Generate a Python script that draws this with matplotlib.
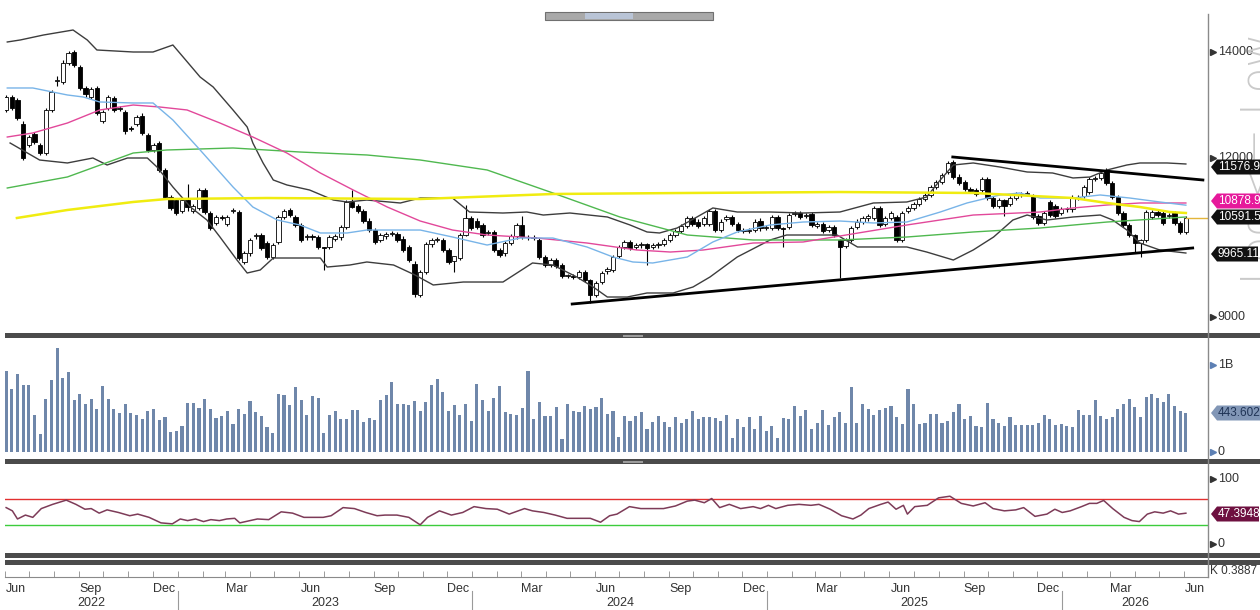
import numpy as np
import pandas as pd
import matplotlib
matplotlib.use('Agg')
import matplotlib.pyplot as plt
from matplotlib.patches import Rectangle, Polygon
from matplotlib.lines import Line2D
from matplotlib.transforms import blended_transform_factory

plt.rcParams['font.family'] = ['Liberation Sans', 'DejaVu Sans']

# weekly candles, first bar on this friday
start = pd.Timestamp('2022-06-03')

opens = [
    12900, 13150, 13100, 12650, 12250, 12450, 12250, 12100, 12900, 13450,
    13430, 13800, 14000, 13720, 13320, 13150, 13320, 12700, 12950, 13130,
    12920, 12870, 12560, 12650, 12800, 12430, 12150, 12280, 11770, 11260,
    11200, 11000, 11200, 11000, 11050, 11400, 10960, 10780, 10880, 10750,
    11000, 10980, 10040, 10200, 10520, 10550, 10400, 10130, 10420, 10880,
    11020, 10880, 10740, 10500, 10520, 10500, 10320, 10320, 10480, 10500,
    10700, 11170, 11100, 11000, 10820, 10640, 10450, 10520, 10560, 10560,
    10480, 10320, 10000, 9420, 9850, 10370, 10450, 10450, 10260, 10050,
    10110, 10550, 10870, 10820, 10740, 10580, 10600, 10260, 10200, 10400,
    10520, 10740, 10500, 10510, 10450, 10130, 9990, 10080, 9980, 9770,
    9780, 9760, 9850, 9700, 9420, 9660, 9860, 9890, 10150, 10320,
    10420, 10320, 10350, 10380, 10320, 10350, 10380, 10450, 10540, 10620,
    10720, 10870, 10800, 10760, 10760, 11000, 10650, 10850, 10880, 10760,
    10640, 10620, 10640, 10820, 10680, 10680, 10880, 10680, 10700, 10950,
    10960, 10900, 10940, 10720, 10760, 10650, 10700, 10450, 10340, 10450,
    10700, 10800, 10860, 10870, 11060, 10750, 10870, 10890, 10450, 11000,
    11060, 11130, 11230, 11300, 11450, 11550, 11740, 11920, 11650, 11550,
    11420, 11400, 11400, 11600, 11250, 11100, 11200, 11130, 11250, 11320,
    11320, 11280, 10900, 10780, 11170, 11100, 10960, 11040, 11030, 11270,
    11280, 11360, 11600, 11620, 11770, 11530, 11260, 10960, 10740, 10550,
    10400, 10450, 10890, 10980, 10960, 10900, 10960, 10770, 10600,
]
closes = [
    13150, 12950, 12750, 12000, 12400, 12300, 12100, 12900, 13250, 13470,
    13800, 13980, 13750, 13320, 13200, 13300, 12850, 12870, 13150, 12900,
    12950, 12500, 12550, 12770, 12470, 12150, 12250, 11770, 11260, 11050,
    10960, 11200, 11080, 11100, 11400, 10980, 10680, 10880, 10870, 10880,
    11020, 10110, 10200, 10450, 10550, 10300, 10130, 10350, 10880, 11000,
    10920, 10740, 10450, 10520, 10500, 10320, 10300, 10500, 10520, 10700,
    11170, 11070, 11000, 10820, 10640, 10420, 10540, 10560, 10580, 10450,
    10260, 10080, 9430, 9850, 10370, 10450, 10460, 10260, 10040, 10150,
    10550, 10870, 10680, 10700, 10550, 10600, 10260, 10170, 10400, 10520,
    10740, 10500, 10510, 10490, 10130, 9980, 10080, 9970, 9770, 9780,
    9750, 9850, 9700, 9420, 9640, 9830, 9900, 10130, 10320, 10420,
    10300, 10350, 10380, 10310, 10350, 10380, 10450, 10540, 10620, 10720,
    10870, 10760, 10720, 10860, 11000, 10640, 10800, 10880, 10760, 10640,
    10620, 10640, 10800, 10670, 10700, 10880, 10680, 10660, 10930, 10960,
    10880, 10920, 10740, 10760, 10630, 10700, 10550, 10320, 10450, 10680,
    10800, 10860, 10900, 11060, 10740, 10870, 10960, 10450, 10960, 11060,
    11130, 11230, 11300, 11450, 11550, 11680, 11900, 11650, 11530, 11420,
    11380, 11320, 11600, 11250, 11100, 11200, 11100, 11250, 11320, 11300,
    11330, 10880, 10780, 10960, 10920, 10900, 11040, 11030, 11270, 11250,
    11450, 11600, 11620, 11720, 11530, 11260, 10960, 10740, 10550, 10400,
    10450, 10980, 10980, 10920, 10770, 10920, 10770, 10600, 10870,
]
# bars whose wicks stick out a lot: index -> (high, low)
long_wicks = {
    9: (13550, 13350), 32: (11500, 11000), 56: (10320, 9890), 61: (11400, 11050),
    72: (10050, 9380), 79: (10150, 9850), 81: (11110, 10530), 91: (10900, 10480),
    103: (9720, 9260), 113: (10400, 9980), 137: (10700, 10320), 147: (10470, 9740),
    176: (11220, 10900), 199: (10560, 10200), 200: (10470, 10130), 208: (10900, 10560),
}

volume_b = [
    0.927, 0.719, 0.895, 0.770, 0.770, 0.426, 0.203, 0.614, 0.829, 1.200,
    0.848, 0.915, 0.602, 0.665, 0.547, 0.614, 0.497, 0.759, 0.614, 0.497,
    0.446, 0.547, 0.446, 0.426, 0.379, 0.469, 0.497, 0.368, 0.399, 0.231,
    0.242, 0.293, 0.563, 0.563, 0.508, 0.614, 0.497, 0.391, 0.418, 0.469,
    0.321, 0.497, 0.438, 0.587, 0.457, 0.418, 0.282, 0.215, 0.665, 0.653,
    0.536, 0.743, 0.602, 0.430, 0.641, 0.626, 0.215, 0.420, 0.469, 0.375,
    0.375, 0.477, 0.477, 0.348, 0.391, 0.368, 0.602, 0.653, 0.809, 0.547,
    0.547, 0.536, 0.587, 0.469, 0.575, 0.770, 0.837, 0.692, 0.469, 0.536,
    0.430, 0.547, 0.360, 0.778, 0.602, 0.469, 0.626, 0.759, 0.454, 0.438,
    0.426, 0.508, 0.934, 0.375, 0.575, 0.414, 0.414, 0.516, 0.152, 0.547,
    0.469, 0.457, 0.532, 0.497, 0.516, 0.626,
    0.438, 0.469, 0.176, 0.414, 0.360, 0.414, 0.457, 0.270, 0.340, 0.414,
    0.340, 0.282, 0.399, 0.336, 0.375, 0.469, 0.375, 0.399, 0.399, 0.391,
    0.352, 0.426, 0.164, 0.375, 0.282, 0.399, 0.270, 0.414, 0.242, 0.297,
    0.164, 0.387, 0.379, 0.532, 0.414, 0.477, 0.270, 0.336, 0.477, 0.309,
    0.399, 0.465, 0.336, 0.743, 0.336, 0.547, 0.493, 0.426, 0.477, 0.508,
    0.524, 0.399, 0.321, 0.719, 0.547, 0.321, 0.336, 0.438, 0.438, 0.336,
    0.360, 0.465, 0.555, 0.375, 0.414, 0.293, 0.282, 0.559, 0.375, 0.336,
    0.293, 0.399, 0.309, 0.309, 0.309, 0.309, 0.336, 0.426, 0.375, 0.309,
    0.321, 0.293, 0.282, 0.477, 0.426, 0.426, 0.594, 0.414, 0.375, 0.399,
    0.493, 0.547, 0.614, 0.516, 0.399, 0.633, 0.665, 0.626, 0.575, 0.665,
    0.532, 0.469, 0.444,
]

# study lines at bar positions
bb_upper_idx = [0.2, 2.5, 6.6, 11.8, 14.3, 16.0, 22.4, 25.9, 29.4, 31.2,
                34.2, 36.5, 40.0, 42.5, 43.5, 45.3, 47.1, 49.5, 53.5, 57.7,
                60.1, 63.6, 69.5, 73.0, 78.7, 81.7, 87.6, 91.8, 94.7, 99.4,
                106.0, 110.0, 113.0, 115.2, 118.3, 121.8, 124.6, 128.9, 134.7, 140.5,
                147.0, 152.9, 158.8, 162.3, 164.7, 167.0, 170.5, 175.2, 180.0, 184.5,
                188.1, 191.1, 194.1, 197.6, 199.9, 204.7, 208.0]
bb_upper = [14189, 14227, 14321, 14415, 14227, 14038, 14000, 14000, 14132, 13906,
            13528, 13340, 12906, 12585, 12283, 11906, 11585, 11491, 11396, 11207,
            11170, 11207, 11151, 11245, 11245, 10981, 10962, 10981, 10924, 10962,
            10887, 10736, 10604, 10585, 10679, 10887, 11057, 10981, 10981, 10962,
            10981, 11151, 11170, 11264, 11585, 11868, 11906, 11830, 11736, 11717,
            11623, 11641, 11774, 11868, 11906, 11906, 11887]
bb_lower_idx = [0.7, 5.9, 10.8, 15.3, 17.8, 21.4, 24.9, 26.6, 29.4, 32.5,
                35.4, 37.7, 40.7, 42.5, 44.8, 47.1, 51.8, 55.4, 56.6, 60.6,
                63.6, 68.3, 72.1, 75.3, 80.6, 87.6, 92.8, 96.4, 100.6, 103.5,
                106.0, 109.5, 113.0, 117.6, 121.1, 124.1, 128.9, 134.7, 137.6, 146.5,
                150.1, 158.8, 162.3, 167.0, 170.5, 174.1, 177.5, 180.0, 183.5, 188.1,
                192.9, 195.1, 197.6, 199.9, 203.4, 208.0]
bb_lower = [12283, 11962, 11906, 12000, 11868, 12000, 12000, 11830, 11453, 11075,
            10830, 10509, 10075, 9830, 9887, 10113, 10113, 10113, 9943, 9981,
            10038, 9981, 9792, 9604, 9660, 9660, 10019, 9981, 9755, 9566,
            9377, 9377, 9453, 9453, 9566, 9755, 10132, 10453, 10547, 10547,
            10321, 10321, 10226, 10075, 10264, 10509, 10830, 10924, 10830, 10887,
            10924, 10830, 10641, 10396, 10264, 10207]
ma_blue_idx = [0.2, 4.7, 10.8, 13.6, 16.5, 22.4, 25.9, 29.4, 34.2, 40.0,
               43.5, 47.8, 51.8, 55.4, 60.1, 63.6, 69.5, 73.0, 78.7, 84.8,
               90.6, 96.4, 102.4, 107.0, 110.5, 114.0, 120.1, 124.6, 128.9, 134.7,
               140.5, 147.0, 152.9, 158.8, 164.7, 169.4, 175.2, 178.7, 182.3, 188.1,
               192.9, 198.1, 203.4, 208.0]
ma_blue = [13321, 13321, 13189, 13151, 13057, 13038, 13038, 12717, 12151, 11453,
           11075, 10830, 10736, 10585, 10585, 10641, 10641, 10641, 10509, 10358,
           10490, 10490, 10321, 10132, 10038, 10019, 10132, 10415, 10604, 10736,
           10792, 10811, 10774, 10792, 10981, 11151, 11302, 11340, 11245, 11245,
           11302, 11245, 11170, 11110]
ma_pink_idx = [0.2, 4.7, 10.8, 16.5, 22.4, 27.1, 31.9, 37.7, 43.5, 49.5,
               55.4, 61.2, 67.2, 73.0, 78.7, 84.8, 93.6, 102.4, 111.2, 117.1,
               122.9, 131.7, 140.5, 147.0, 158.8, 170.5, 182.3, 188.1, 194.1, 199.9, 208.0]
ma_pink = [12396, 12472, 12660, 12906, 13000, 12962, 12906, 12660, 12396, 12094,
           11717, 11396, 11075, 10811, 10641, 10547, 10490, 10396, 10264, 10226,
           10264, 10396, 10415, 10528, 10736, 10924, 10981, 11057, 11113, 11151, 11151]
ma_green_idx = [0.2, 10.8, 22.4, 28.3, 40.0, 51.8, 63.6, 73.0, 84.8, 96.4,
                108.2, 120.1, 131.7, 147.0, 158.8, 170.5, 182.3, 194.1, 208.0]
ma_green = [11434, 11642, 12094, 12151, 12189, 12113, 12057, 11962, 11774, 11340,
            10887, 10547, 10453, 10453, 10509, 10604, 10679, 10792, 10887]
ma_yellow_idx = [1.9, 10.8, 22.4, 28.3, 46.0, 73.0, 96.4, 120.1, 147.0, 170.5,
                 188.1, 194.1, 199.9, 205.2, 208.0]
ma_yellow = [10868, 11019, 11170, 11226, 11245, 11226, 11321, 11340, 11358, 11340,
             11245, 11151, 11075, 10981, 10962]

# hand drawn trend lines (bar index, price)
trend_upper_idx = [166.9, 211.0]
trend_upper = [12019, 11585]
trend_lower_idx = [99.8, 209.2]
trend_lower = [9245, 10302]

rsi_idx = [0.0, 1.1, 2.0, 3.4, 4.7, 6.2, 8.2, 10.6, 12.3, 13.9,
           15.0, 16.4, 17.8, 19.8, 21.8, 23.2, 25.2, 27.3, 29.3, 30.7,
           32.0, 33.4, 34.8, 36.1, 37.6, 38.9, 40.3, 41.2, 43.0, 44.3,
           46.3, 48.5, 50.5, 52.5, 54.5, 55.9, 57.3, 59.4, 61.4, 63.4,
           65.4, 66.8, 68.9, 71.0, 73.0, 74.3, 76.4, 78.5, 80.5, 82.5,
           84.6, 86.6, 88.7, 91.4, 92.8, 94.8, 96.8, 98.9, 101.0, 103.0,
           104.8, 106.4, 107.7, 109.9, 111.9, 115.9, 118.0, 120.1, 121.4, 123.1,
           124.4, 125.8, 127.5, 129.5, 131.7, 133.0, 134.4, 135.7, 137.8, 139.8,
           141.9, 143.3, 145.3, 147.3, 149.3, 150.7, 152.1, 154.2, 155.5, 156.9,
           158.2, 158.9, 160.2, 162.4, 164.4, 166.4, 168.4, 170.5, 172.6, 174.0,
           176.0, 178.0, 179.4, 181.4, 183.5, 184.9, 186.2, 187.6, 189.6, 191.0,
           192.3, 193.5, 195.1, 197.1, 198.5, 199.8, 201.2, 202.5, 204.0, 205.3,
           206.7, 208.0]
rsi = [56.0, 51.0, 38.5, 44.5, 41.0, 54.5, 61.0, 67.5, 61.0, 53.5,
       54.5, 47.5, 52.5, 48.5, 43.5, 46.0, 41.0, 32.5, 31.0, 38.5,
       36.0, 38.5, 34.5, 37.5, 36.0, 38.5, 39.5, 32.5, 36.0, 38.5,
       37.5, 49.5, 47.5, 41.0, 41.0, 41.0, 43.5, 56.0, 54.5, 48.5,
       43.5, 44.5, 44.5, 41.0, 29.5, 41.0, 51.0, 44.5, 48.5, 57.5,
       54.5, 53.5, 46.0, 54.5, 51.0, 48.5, 44.5, 39.5, 39.5, 39.5,
       33.5, 43.5, 46.0, 57.5, 54.5, 54.5, 58.5, 66.0, 67.5, 63.5,
       70.0, 56.0, 61.0, 54.5, 57.5, 54.5, 59.5, 54.5, 59.5, 61.0,
       59.5, 61.0, 53.5, 43.5, 38.5, 44.5, 54.5, 61.0, 64.5, 53.5,
       59.5, 46.0, 57.5, 59.5, 71.0, 73.5, 62.5, 58.5, 63.5, 54.5,
       51.0, 52.5, 56.0, 42.5, 46.0, 53.5, 48.5, 51.0, 57.5, 62.5,
       62.5, 67.0, 54.5, 41.0, 36.0, 34.5, 46.0, 49.5, 47.5, 51.0,
       46.0, 47.39]


def to_idx(d):
    return (pd.Timestamp(d) - start).days / 7


W, H = 1260, 610
fig = plt.figure(figsize=(W / 100, H / 100), dpi=100)
fig.patch.set_facecolor('white')


def fx(x):
    return x / W


def fy(y):
    return 1 - y / H


def panel(top, bottom, left=5, right=1208):
    a = fig.add_axes([fx(left), fy(bottom), (right - left) / W, (bottom - top) / H])
    a.set_xlim(-0.2, 211.9)
    a.patch.set_alpha(0)
    for s in a.spines.values():
        s.set_visible(False)
    a.set_xticks([])
    a.set_yticks([])
    return a


# faint rotated caption at the right edge, behind everything else
fig.text(fx(1259), fy(158), 'Log <= Low', rotation=90, fontsize=30, color='#cacaca',
         ha='center', va='center', family='DejaVu Sans', fontweight='light', zorder=0)

ax = panel(14, 333)
ax_vol = panel(340, 458)
ax_rsi = panel(466, 552)
ax_date = panel(553, 577)

# ---- price panel
ax.set_ylim(8698, 14717)
for i, (o, c) in enumerate(zip(opens, closes)):
    hi, lo = long_wicks.get(i, (max(o, c) + 40, min(o, c) - 40))
    ax.vlines(i, lo, hi, color='black', lw=0.8, zorder=3)
    fc = 'white' if c >= o else 'black'
    ax.add_patch(Rectangle((i - 0.38, min(o, c)), 0.76, max(abs(c - o), 15),
                           facecolor=fc, edgecolor='black', lw=0.6, zorder=3.5))

ax.plot(bb_upper_idx, bb_upper, color='#3d3d3d', lw=1.0, zorder=4)
ax.plot(bb_lower_idx, bb_lower, color='#3d3d3d', lw=1.0, zorder=4)
ax.plot(ma_green_idx, ma_green, color='#4fb84f', lw=1.0, zorder=4)
ax.plot(ma_pink_idx, ma_pink, color='#e2489a', lw=1.0, zorder=4)
ax.plot(ma_blue_idx, ma_blue, color='#78b4e8', lw=1.0, zorder=4)
ax.plot(ma_yellow_idx, ma_yellow, color='#f0ec10', lw=1.8, zorder=4)
ax.plot(trend_upper_idx, trend_upper, color='black', lw=2.0, zorder=5)
ax.plot(trend_lower_idx, trend_lower, color='black', lw=2.0, zorder=5)
# last price line out to the axis
ax.plot([len(closes) - 1, 211.9], [closes[-1], closes[-1]], color='#e3b53a', lw=1.0, zorder=4)

# ---- volume panel
ax_vol.set_ylim(-0.069, 1.287)
ax_vol.bar(np.arange(len(volume_b)), volume_b, width=0.55, color='#6f87aa', zorder=3)

# ---- rsi panel
ax_rsi.set_ylim(-12.3, 120)
ax_rsi.axhline(70, color='#e23030', lw=1.0)
ax_rsi.axhline(30, color='#3ccc3c', lw=1.0)
ax_rsi.plot(rsi_idx, rsi, color='#7d3b58', lw=1.1, zorder=4)


def right_tick(a, val, text, mcolor='#333333'):
    tr = a.get_yaxis_transform()
    a.plot([1.0045], [val], marker='>', ms=4, color=mcolor, transform=tr, clip_on=False)
    a.text(1.008, val, text, transform=tr, va='center', ha='left', fontsize=9, color='#333333')


for v in (14000, 12000, 9000):
    right_tick(ax, v, str(v))
right_tick(ax_vol, 1.0, '1B', '#5d80b4')
right_tick(ax_vol, 0.0, '0', '#5d80b4')
right_tick(ax_rsi, 100, '100')
right_tick(ax_rsi, 0, '0')

# ---- date axis
ax_date.spines['bottom'].set_visible(True)
ax_date.spines['bottom'].set_color('#8a8a8a')
months = pd.date_range('2022-06-01', '2026-07-01', freq='MS')
ax_date.set_xticks([to_idx(m) for m in months], minor=True)
label_dates = [pd.Timestamp(y, m, 15) for y in range(2022, 2027) for m in (3, 6, 9, 12)]
label_dates = [d for d in label_dates if pd.Timestamp('2022-06-01') <= d <= pd.Timestamp('2026-06-30')]
ax_date.set_xticks([to_idx(d) for d in label_dates])
ax_date.set_xticklabels([d.strftime('%b') for d in label_dates])
ax_date.tick_params(axis='x', which='major', length=0, pad=4, labelsize=9, labelcolor='#333333')
ax_date.tick_params(axis='x', which='minor', direction='in', length=4, color='#8a8a8a')

yr_tr = blended_transform_factory(ax_date.transData, ax_date.transAxes)
x_lo, x_hi = ax_date.get_xlim()
for yr in range(2022, 2027):
    a0 = max(to_idx(f'{yr}-01-01'), x_lo)
    a1 = min(to_idx(f'{yr + 1}-01-01'), x_hi)
    ax_date.text((a0 + a1) / 2, -(603 - 577) / 24, str(yr), transform=yr_tr,
                 ha='center', va='center', fontsize=9, color='#333333', clip_on=False)
    if yr > 2022:
        jan = to_idx(f'{yr}-01-01')
        ax_date.plot([jan, jan], [-(591 - 577) / 24, -(610 - 577) / 24], transform=yr_tr,
                     color='#9a9a9a', lw=0.8, clip_on=False)

# ---- frame pieces: panel dividers, axis line, toolbar
for top, bot in ((333, 338), (459, 464), (553, 558), (560, 565)):
    fig.patches.append(Rectangle((fx(5), fy(bot)), fx(1260) - fx(5), (bot - top) / H,
                                 transform=fig.transFigure, facecolor='#4b4b4b', edgecolor='none'))
for yy in (335, 461):
    fig.patches.append(Rectangle((fx(623), fy(yy + 2)), fx(20), 2 / H,
                                 transform=fig.transFigure, facecolor='#9c9c9c', edgecolor='none'))
fig.add_artist(Line2D([fx(1208), fx(1208)], [fy(14), fy(577)], transform=fig.transFigure,
                      color='#8a8a8a', lw=1.0))
fig.patches.append(Rectangle((fx(545), fy(20)), fx(168), 8 / H, transform=fig.transFigure,
                             facecolor='#a9a9a9', edgecolor='#707070', lw=0.8))
fig.patches.append(Rectangle((fx(585), fy(19)), fx(48), 6 / H, transform=fig.transFigure,
                             facecolor='#b9c4d6', edgecolor='none'))


def value_box(y, text, face, tcolor, width=60):
    h = 15
    x0 = 1211
    pts = [(x0, y), (x0 + 6, y - h / 2), (x0 + width, y - h / 2),
           (x0 + width, y + h / 2), (x0 + 6, y + h / 2)]
    fig.patches.append(Polygon([(fx(px), fy(py)) for px, py in pts], closed=True,
                               transform=fig.transFigure, facecolor=face, edgecolor='none'))
    fig.text(fx(x0 + 7), fy(y), text, color=tcolor, fontsize=8.5, va='center', ha='left')


value_box(167, '11576.93', '#111111', 'white')
value_box(201, '10878.91', '#e6199b', 'white')
value_box(217, '10591.56', '#111111', 'white')
value_box(254, '9965.11', '#111111', 'white', width=47)
value_box(413, '443.602M', '#8196b6', '#1f3355')
value_box(514, '47.3948', '#6e1040', 'white', width=48)

fig.text(fx(1210), fy(571), 'K 0.3887', fontsize=8.5, color='#333333', va='center', ha='left')

fig.savefig('out.png', dpi=100, facecolor='white')
